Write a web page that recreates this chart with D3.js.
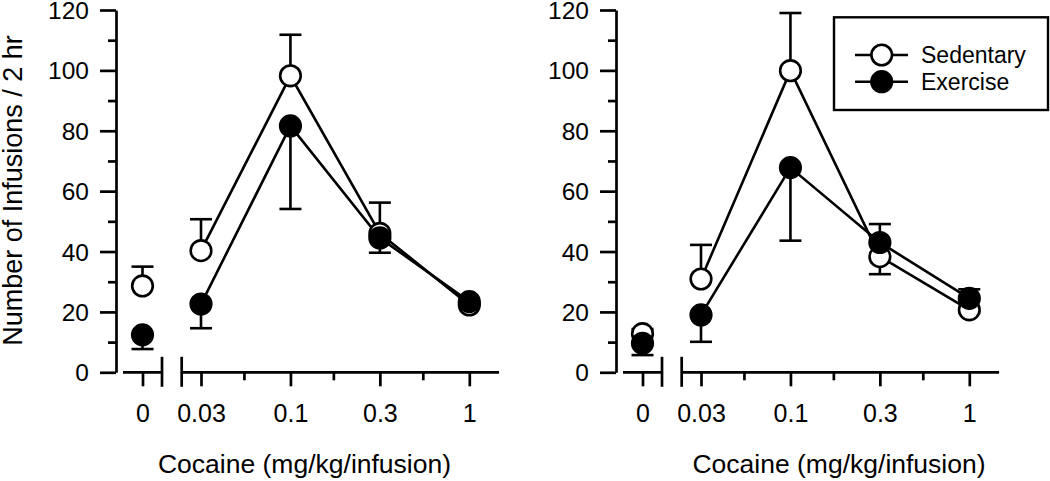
<!DOCTYPE html>
<html>
<head>
<meta charset="utf-8">
<script src="https://cdn.jsdelivr.net/npm/d3@7"></script>
<style>
  body { margin: 0; background: #fff; }
  text { font-family: "Liberation Sans", Arial, sans-serif; fill: #000; }
</style>
</head>
<body>
<svg id="chart" width="1050" height="481"></svg>
<script>
// ---- data ----
const zeroDose = ["0"];
const doses = ["0.03", "0.1", "0.3", "1"];
const yTicksMajor = [0, 20, 40, 60, 80, 100, 120];
const yTicksMinor = [10, 30, 50, 70, 90, 110];
const seriesNames = ["Sedentary", "Exercise"];

// Panel A (left): values for doses 0, 0.03, 0.1, 0.3, 1
const leftSedMean = [28.6, 40.3, 98.2, 46.0, 22.3];
const leftSedSem  = [6.4, 10.4, 13.6, 10.2, 0.8];
const leftSedDir  = [1, 1, 1, 1, 1];
const leftExMean  = [12.4, 22.6, 81.6, 44.5, 23.4];
const leftExSem   = [4.7, 8.0, 27.5, 4.9, 1.0];
const leftExDir   = [-1, -1, -1, -1, -1];

// Panel B (right)
const rightSedMean = [12.8, 30.9, 99.9, 38.3, 20.7];
const rightSedSem  = [1.5, 11.3, 19.1, 5.8, 1.0];
const rightSedDir  = [1, 1, 1, -1, -1];
const rightExMean  = [9.6, 19.0, 67.8, 43.0, 24.5];
const rightExSem   = [3.9, 8.9, 24.2, 6.1, 3.0];
const rightExDir   = [-1, -1, -1, 1, 1];

// ---- drawing ----
const svg = d3.select("#chart");
const y = d3.scaleLinear().domain([0, 120]).range([372.3, 10]);
const R = 10.3;
const SW = 2.6;

function panel(x0, sed, ex, titleX) {
  const g = svg.append("g");
  const xz = d3.scalePoint().domain(zeroDose).range([x0 + 7, x0 + 46]).padding(0.5);
  const xd = d3.scaleLinear().domain([0, doses.length - 1]).range([x0 + 85, x0 + 353.3]);
  const xPos = i => i === 0 ? xz(zeroDose[0]) : xd(i - 1);

  // y axis
  const ya = g.append("g").attr("transform", `translate(${x0},0)`)
    .call(d3.axisLeft(y).tickValues(yTicksMajor).tickSize(16).tickSizeOuter(0).tickPadding(11));
  g.append("g").attr("transform", `translate(${x0},0)`)
    .call(d3.axisLeft(y).tickValues(yTicksMinor).tickSize(8).tickSizeOuter(0).tickFormat(""))
    .select(".domain").remove();
  ya.selectAll("text").style("font-size", "24.5px").attr("dy", "0.35em");

  // x axis: zero-dose segment
  const axz = g.append("g").attr("transform", `translate(0,${y(0)})`)
    .call(d3.axisBottom(xz).tickSize(14).tickSizeOuter(0).tickPadding(18));
  axz.select(".domain").remove();
  axz.selectAll("text").style("font-size", "25px");
  g.append("line").attr("x1", xz.range()[0]).attr("x2", xz.range()[1])
    .attr("y1", y(0)).attr("y2", y(0));
  // dose segment
  const axd = g.append("g").attr("transform", `translate(0,${y(0)})`)
    .call(d3.axisBottom(xd).tickValues(d3.range(doses.length)).tickFormat(i => doses[i])
      .tickSize(14).tickSizeOuter(0).tickPadding(18));
  axd.select(".domain").remove();
  axd.selectAll("text").style("font-size", "25px");
  g.append("g").attr("transform", `translate(0,${y(0)})`)
    .call(d3.axisBottom(xd).tickValues(d3.range(doses.length - 1).map(i => i + 0.48))
      .tickSize(8).tickSizeOuter(0).tickFormat(""))
    .select(".domain").remove();
  const segStart = xd(-0.216), segEnd = xd(3.333);
  g.append("line").attr("x1", segStart).attr("x2", segEnd).attr("y1", y(0)).attr("y2", y(0));
  // break marks
  [xz.range()[1], segStart].forEach(xb => {
    g.append("line").attr("x1", xb).attr("x2", xb).attr("y1", y(0) - 15.5).attr("y2", y(0) + 14.5);
  });
  g.selectAll("line, path").attr("stroke", "#000").attr("stroke-width", 2.7).attr("fill", "none");

  // x title
  g.append("text").attr("x", titleX).attr("y", 473).attr("text-anchor", "middle")
    .style("font-size", "26.5px").text("Cocaine (mg/kg/infusion)");

  const series = [
    { mean: sed.mean, sem: sed.sem, dir: sed.dir, fill: "#fff" },
    { mean: ex.mean, sem: ex.sem, dir: ex.dir, fill: "#000" }
  ];
  const line = d3.line().x(d => xPos(d.i)).y(d => y(d.v));
  // connecting lines (doses only)
  series.forEach(s => {
    const pts = s.mean.map((v, i) => ({ v, i })).filter(d => d.i > 0);
    g.append("path").attr("d", line(pts)).attr("fill", "none")
      .attr("stroke", "#000").attr("stroke-width", SW);
  });
  // error bars
  series.forEach(s => {
    s.mean.forEach((v, i) => {
      const ye = y(v + s.dir[i] * s.sem[i]);
      const xc = xPos(i);
      g.append("line").attr("x1", xc).attr("x2", xc).attr("y1", y(v)).attr("y2", ye)
        .attr("stroke", "#000").attr("stroke-width", SW);
      g.append("line").attr("x1", xc - 11).attr("x2", xc + 11).attr("y1", ye).attr("y2", ye)
        .attr("stroke", "#000").attr("stroke-width", SW);
    });
  });
  // markers
  series.forEach(s => {
    s.mean.forEach((v, i) => {
      g.append("circle").attr("cx", xPos(i)).attr("cy", y(v)).attr("r", R)
        .attr("fill", s.fill).attr("stroke", "#000").attr("stroke-width", SW);
    });
  });
}

panel(116, { mean: leftSedMean, sem: leftSedSem, dir: leftSedDir },
           { mean: leftExMean, sem: leftExSem, dir: leftExDir }, 304.5);
panel(616, { mean: rightSedMean, sem: rightSedSem, dir: rightSedDir },
           { mean: rightExMean, sem: rightExSem, dir: rightExDir }, 839);

// y title
svg.append("text").attr("transform", "translate(21.5,190.5) rotate(-90)")
  .attr("text-anchor", "middle").style("font-size", "27px")
  .text("Number of Infusions / 2 hr");

// legend
const lg = svg.append("g");
lg.append("rect").attr("x", 834).attr("y", 17.3).attr("width", 214).attr("height", 92.7)
  .attr("fill", "#fff").attr("stroke", "#000").attr("stroke-width", 2.4);
const legendFill = ["#fff", "#000"];
const ly = d3.scalePoint().domain(seriesNames).range([55, 81.7]);
seriesNames.forEach((name, k) => {
  lg.append("line").attr("x1", 855).attr("x2", 908).attr("y1", ly(name)).attr("y2", ly(name))
    .attr("stroke", "#000").attr("stroke-width", SW);
  lg.append("circle").attr("cx", 881.7).attr("cy", ly(name)).attr("r", R)
    .attr("fill", legendFill[k]).attr("stroke", "#000").attr("stroke-width", SW);
  lg.append("text").attr("x", 921).attr("y", ly(name)).attr("dy", "0.36em")
    .style("font-size", "23px").text(name);
});
</script>
</body>
</html>
